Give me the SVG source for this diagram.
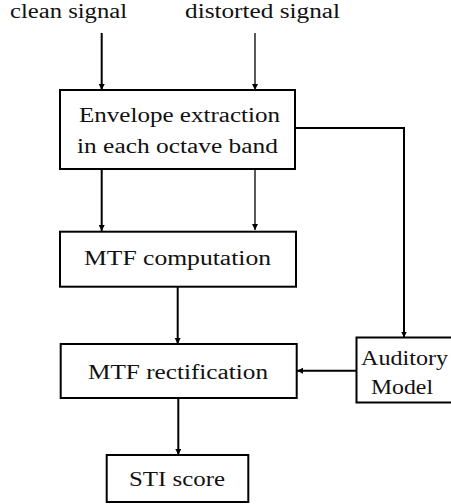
<svg xmlns="http://www.w3.org/2000/svg" width="451" height="504" viewBox="0 0 451 504">
<defs>
<style>
.box{fill:#fff;stroke:#000;stroke-width:2}
.w{fill:none;stroke:#000;stroke-width:2}
.t{fill:none;stroke:#000;stroke-width:1.3}
text{font-family:"Liberation Serif","Times New Roman",serif;font-size:20px;fill:#111;text-anchor:middle}
</style>
<marker id="ah" markerUnits="userSpaceOnUse" markerWidth="7" markerHeight="7" refX="6" refY="3" orient="auto">
<path d="M0,0 L6,3 L0,6 z" fill="#000"/>
</marker>
</defs>
<g id="labels">
<text x="68.5" y="18" textLength="117" lengthAdjust="spacingAndGlyphs">clean signal</text>
<text x="262.5" y="18" textLength="155" lengthAdjust="spacingAndGlyphs">distorted signal</text>
</g>
<g id="connectors">
<line class="w" x1="101.7" y1="33" x2="101.7" y2="90" marker-end="url(#ah)"/>
<line class="t" x1="255" y1="33" x2="255" y2="90" marker-end="url(#ah)"/>
<line class="w" x1="101.7" y1="169" x2="101.7" y2="231" marker-end="url(#ah)"/>
<line class="t" x1="255" y1="169" x2="255" y2="230" marker-end="url(#ah)"/>
<line class="w" x1="177.7" y1="287" x2="177.7" y2="344" marker-end="url(#ah)"/>
<path class="w" d="M295,128 H404 V337.5" marker-end="url(#ah)"/>
<line class="w" x1="356.5" y1="370.7" x2="297" y2="370.7" marker-end="url(#ah)"/>
<line class="w" x1="178.3" y1="398" x2="178.3" y2="455" marker-end="url(#ah)"/>
</g>
<g id="envelope">
<rect class="box" x="60" y="90" width="235" height="79"/>
<text x="179.5" y="122" textLength="201" lengthAdjust="spacingAndGlyphs">Envelope extraction</text>
<text x="177.5" y="153" textLength="201" lengthAdjust="spacingAndGlyphs">in each octave band</text>
</g>
<g id="mtf-computation">
<rect class="box" x="60" y="231.7" width="236" height="55"/>
<text x="177.5" y="265" textLength="187" lengthAdjust="spacingAndGlyphs">MTF computation</text>
</g>
<g id="mtf-rectification">
<rect class="box" x="60.7" y="344" width="236" height="54"/>
<text x="178" y="379" textLength="180" lengthAdjust="spacingAndGlyphs">MTF rectification</text>
</g>
<g id="auditory-model">
<rect class="box" x="356.5" y="337.5" width="100" height="65"/>
<text x="404.5" y="364.5" textLength="87" lengthAdjust="spacingAndGlyphs">Auditory</text>
<text x="402" y="393.5" textLength="62" lengthAdjust="spacingAndGlyphs">Model</text>
</g>
<g id="sti-score">
<rect class="box" x="106.7" y="455" width="141.6" height="47"/>
<text x="177" y="486" textLength="96" lengthAdjust="spacingAndGlyphs">STI score</text>
</g>
</svg>
